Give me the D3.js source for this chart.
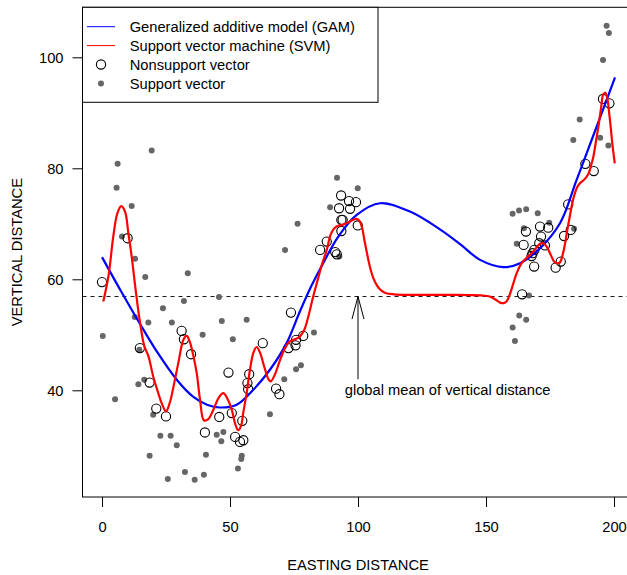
<!DOCTYPE html>
<html>
<head>
<meta charset="utf-8">
<script src="https://cdn.jsdelivr.net/npm/d3@7"></script>
<style>
  html, body { margin: 0; padding: 0; background: #fff; }
  svg { display: block; }
  text { font-family: "Liberation Sans", Arial, Helvetica, sans-serif; fill: #000; }
</style>
</head>
<body>
<div id="chart"></div>
<script>
// Nonsupport vectors (easting, vertical)
const nonsupportX = [0, 10.0, 31.1, 32.0, 62.8, 14.8, 34.8, 18.6, 49.4, 57.5, 56.8, 57.1, 68.0, 69.3, 21.2, 25.0,
  45.8, 50.7, 40.2, 54.8, 52.0, 53.9, 55.2, 73.8, 72.8, 75.6, 78.6, 75.8, 93.4, 96.5, 99.2, 92.6, 96.9, 93.5, 94.0,
  99.9, 93.5, 87.8, 85.2, 91.1, 91.7, 195.7, 198.2, 188.8, 192.1, 182.1, 165.6, 171.1, 174.3, 171.5, 170.8, 183.1,
  180.5, 164.7, 173.0, 168.9, 168.2, 167.8, 179.2, 168.8, 177.2, 164.1];
const nonsupportY = [59.5, 67.4, 50.7, 49.2, 48.5, 47.6, 46.5, 41.4, 43.2, 42.9, 41.3, 40.2, 40.3, 39.3, 36.7, 35.3,
  35.2, 35.9, 32.4, 34.5, 31.6, 30.7, 31.0, 54.0, 47.6, 48.1, 49.8, 49.1, 75.1, 74.1, 73.9, 72.8, 72.7, 70.7, 70.7,
  69.7, 68.7, 66.8, 65.3, 64.9, 64.5, 92.5, 91.7, 80.8, 79.5, 73.5, 68.6, 69.5, 69.3, 67.7, 66.5, 68.9,
  67.8, 66.2, 66.1, 65.3, 64.7, 64.2, 63.2, 62.3, 62.1, 57.3];

// Support vectors (easting, vertical)
const supportX = [0.3, 6.1, 5.7, 5.1, 7.8, 19.4, 11.6, 12.9, 16.9, 33.5, 71.5, 76.4, 45.7, 32.0, 23.8, 12.8, 18.1,
  27.3, 46.8, 56.5, 39.3, 51.1, 14.6, 16.5, 14.2, 20.0, 75.8, 77.7, 71.2, 82.8, 65.6, 47.4, 44.8, 46.6, 22.8, 26.8,
  29.2, 18.6, 40.6, 54.6, 54.4, 53.1, 32.4, 39.8, 25.7, 36.2, 91.8, 99.9, 89.1, 92.7, 197.1, 198.0, 195.7, 186.6,
  184.1, 194.6, 197.8, 160.4, 162.9, 165.7, 170.2, 174.7, 164.8, 184.4, 162.0, 166.8, 163.0, 165.7, 160.4, 161.3];
const supportY = [49.8, 80.8, 76.5, 38.4, 67.7, 83.2, 73.2, 63.7, 60.4, 61.1, 65.3, 70.0, 56.8, 56.1, 54.8, 53.2, 52.2,
  52.2, 52.5, 52.7, 50.0, 49.2, 47.3, 41.9, 41.1, 35.6, 43.8, 44.5, 42.0, 50.4, 35.7, 32.5, 32.0, 30.8, 31.8, 31.8,
  30.1, 28.2, 28.4, 28.2, 27.6, 25.9, 25.3, 24.8, 24.0, 23.9, 78.3, 76.4, 73.0, 64.1, 105.7, 104.4, 99.5, 88.8,
  85.1, 85.5, 84.1, 71.8, 72.4, 72.6, 71.9, 70.2, 69.2, 69.1, 66.4, 57.1, 53.5, 52.7, 51.3, 48.9];

// Fitted GAM curve
const gamX = [0, 7.5, 14.8, 21.4, 29.2, 35.7, 41.0, 46.1, 52.6, 59.1, 65.6, 72.1, 77.3, 82.0, 86.4, 92.3, 99.5,
  108.6, 120.3, 132.0, 140.0, 147.7, 156.8, 163.3, 171.1, 178.9, 185.4, 192.0, 200.4];
const gamY = [64.0, 57.8, 52.0, 47.0, 41.9, 38.8, 37.4, 36.9, 37.4, 40.1, 43.7, 48.5, 54.2, 59.0, 62.9, 67.7, 71.6,
  73.7, 72.2, 69.0, 66.3, 63.5, 62.2, 62.9, 65.6, 70.1, 77.9, 86.0, 96.4];

// Fitted SVM regression curve
const svmX = [0.5, 2.5, 4.4, 6.0, 7.5, 9.0, 10.3, 11.6, 13.3, 14.8, 16.5, 18.1, 20.0, 21.5, 23.3, 25.0, 26.5, 27.9,
  29.8, 31.8, 33.1, 34.4, 35.6, 37.0, 38.3, 39.8, 41.5, 43.5, 45.5, 47.4, 49.2, 50.7, 52.0, 53.2, 54.3, 55.2, 56.5,
  57.8, 59.1, 60.4, 61.8, 63.4, 65.0, 65.9, 67.5, 69.5, 71.5, 73.4, 75.4, 77.3, 79.0, 80.6, 82.5, 84.2, 86.0, 87.8,
  89.2, 90.4, 92.0, 94.0, 96.0, 98.0, 99.4, 100.6, 101.6, 102.6, 103.6, 104.8, 106.0, 107.5, 109.0, 111.0, 114.0,
  120.0, 135.0, 148.0, 151.5, 153.5, 155.5, 156.8, 158.0, 159.4, 160.7, 162.0, 163.9, 165.5, 167.2, 169.2, 171.1,
  172.4, 173.7, 175.3, 176.6, 177.6, 178.8, 180.0, 180.9, 181.8, 182.8, 183.6, 184.4, 185.5, 186.7, 188.0, 189.2,
  190.3, 191.2, 191.9, 192.9, 193.9, 194.9, 195.8, 196.6, 197.5, 198.1, 198.7, 199.4, 200.3];
const svmY = [56.0, 60.5, 67.7, 71.9, 73.2, 72.2, 68.3, 64.1, 57.5, 52.4, 48.0, 46.2, 42.5, 40.2, 37.7, 36.2, 37.8,
  40.6, 44.9, 49.1, 49.8, 48.6, 46.4, 43.1, 38.3, 34.6, 34.8, 36.5, 38.6, 39.5, 38.3, 36.5, 34.0, 32.8, 33.6, 36.0,
  39.5, 43.7, 46.7, 47.8, 46.7, 44.2, 42.0, 41.6, 42.8, 45.4, 47.6, 48.8, 49.2, 49.7, 50.9, 53.3, 56.9, 59.8, 62.8,
  65.3, 67.9, 69.0, 69.6, 69.8, 70.2, 70.7, 70.9, 70.5, 69.3, 66.8, 64.5, 62.0, 60.2, 58.8, 58.0, 57.5, 57.3,
  57.2, 57.2, 57.1, 56.9, 56.4, 55.8, 55.7, 56.0, 57.4, 59.3, 61.1, 62.9, 63.7, 64.4, 65.4, 66.4,
  66.5, 65.9, 64.4, 63.2, 62.9, 63.0, 64.5, 66.5, 69.0, 71.5, 73.5, 75.0, 76.5, 77.3, 77.8, 78.4,
  79.3, 80.8, 82.0, 84.7, 87.5, 90.7, 93.3, 93.6, 92.3, 90.0, 87.5, 84.2, 80.9];

const globalMean = 56.9;
const xTicks = [0, 50, 100, 150, 200];
const yTicks = [40, 60, 80, 100];
const legendLabels = ["Generalized additive model (GAM)", "Support vector machine (SVM)",
  "Nonsupport vector", "Support vector"];
const noteLabel = "global mean of vertical distance";

const W = 627, H = 575;
const fontSize = "14.7px";
const boxLeft = 82.5, boxTop = 7.3, boxBottom = 497, boxRight = 640;

const x = d3.scaleLinear().domain([0, 200]).range([102, 614]);
const y = d3.scaleLinear().domain([40, 100]).range([390.3, 57.3]);

const svg = d3.select("#chart").append("svg").attr("width", W).attr("height", H);

// Plot frame
svg.append("rect")
  .attr("x", boxLeft).attr("y", boxTop)
  .attr("width", boxRight - boxLeft).attr("height", boxBottom - boxTop)
  .attr("fill", "none").attr("stroke", "#000").attr("stroke-width", 1);

// Axes
const xAxis = d3.axisBottom(x).tickValues(xTicks).tickSize(10).tickPadding(15).tickSizeOuter(0);
const gx = svg.append("g").attr("transform", `translate(0,${boxBottom})`).call(xAxis);
gx.select(".domain").remove();
gx.selectAll("text").attr("font-size", fontSize).attr("font-family", null).attr("fill", "#000");
gx.selectAll("line").attr("stroke", "#000");

const yAxis = d3.axisLeft(y).tickValues(yTicks).tickSize(10).tickPadding(9).tickSizeOuter(0);
const gy = svg.append("g").attr("transform", `translate(${boxLeft},0)`).call(yAxis);
gy.select(".domain").remove();
gy.selectAll("text").attr("font-size", fontSize).attr("font-family", null).attr("fill", "#000");
gy.selectAll("line").attr("stroke", "#000");

// Axis titles
svg.append("text").attr("x", 358).attr("y", 570).attr("text-anchor", "middle")
  .attr("font-size", fontSize).text("EASTING DISTANCE");
svg.append("text").attr("transform", `translate(22,${(boxTop + boxBottom) / 2}) rotate(-90)`)
  .attr("text-anchor", "middle").attr("font-size", fontSize).text("VERTICAL DISTANCE");

// Global mean reference line
svg.append("line")
  .attr("x1", boxLeft).attr("x2", boxRight)
  .attr("y1", y(globalMean)).attr("y2", y(globalMean))
  .attr("stroke", "#000").attr("stroke-width", 0.9).attr("stroke-dasharray", "4,4");

// Points
const support = supportX.map((d, i) => [d, supportY[i]]);
const nonsupport = nonsupportX.map((d, i) => [d, nonsupportY[i]]);

svg.append("g").selectAll("circle").data(support).join("circle")
  .attr("cx", d => x(d[0])).attr("cy", d => y(d[1])).attr("r", 3)
  .attr("fill", "#666");

svg.append("g").selectAll("circle").data(nonsupport).join("circle")
  .attr("cx", d => x(d[0])).attr("cy", d => y(d[1])).attr("r", 4.6)
  .attr("fill", "none").attr("stroke", "#000").attr("stroke-width", 1.1);

// Fitted curves
const line = d3.line().x(d => x(d[0])).y(d => y(d[1])).curve(d3.curveCatmullRom.alpha(0.5));
svg.append("path").datum(gamX.map((d, i) => [d, gamY[i]]))
  .attr("d", line).attr("fill", "none").attr("stroke", "#0000ff").attr("stroke-width", 2.2);
svg.append("path").datum(svmX.map((d, i) => [d, svmY[i]]))
  .attr("d", line).attr("fill", "none").attr("stroke", "#ff0000").attr("stroke-width", 2.2);

// Annotation arrow pointing at the mean line
const ax = x(100), tipY = y(globalMean), tailY = y(42);
const arrow = svg.append("g").attr("stroke", "#000").attr("stroke-width", 1).attr("fill", "none");
arrow.append("line").attr("x1", ax).attr("x2", ax).attr("y1", tailY).attr("y2", tipY);
arrow.append("path").attr("d", `M${ax - 6},${tipY + 22.6}L${ax},${tipY}L${ax + 6},${tipY + 22.6}`);
svg.append("text").attr("x", x(135)).attr("y", y(40)).attr("dy", "0.35em")
  .attr("text-anchor", "middle").attr("font-size", fontSize).text(noteLabel);

// Legend
const lg = svg.append("g");
lg.append("rect").attr("x", boxLeft).attr("y", boxTop).attr("width", 378 - boxLeft).attr("height", 102.3 - boxTop)
  .attr("fill", "#fff").attr("stroke", "#000").attr("stroke-width", 1);
const rowY = i => 26.7 + i * 18.9;
lg.append("line").attr("x1", 87).attr("x2", 115).attr("y1", rowY(0)).attr("y2", rowY(0)).attr("stroke", "#0000ff");
lg.append("line").attr("x1", 87).attr("x2", 115).attr("y1", rowY(1)).attr("y2", rowY(1)).attr("stroke", "#ff0000");
lg.append("circle").attr("cx", 101).attr("cy", rowY(2)).attr("r", 4.6).attr("fill", "none")
  .attr("stroke", "#000").attr("stroke-width", 1.1);
lg.append("circle").attr("cx", 101).attr("cy", rowY(3)).attr("r", 3).attr("fill", "#666");
lg.selectAll("text").data(legendLabels).join("text")
  .attr("x", 129.7).attr("y", (d, i) => rowY(i)).attr("dy", "0.35em")
  .attr("font-size", fontSize).text(d => d);
</script>
</body>
</html>
